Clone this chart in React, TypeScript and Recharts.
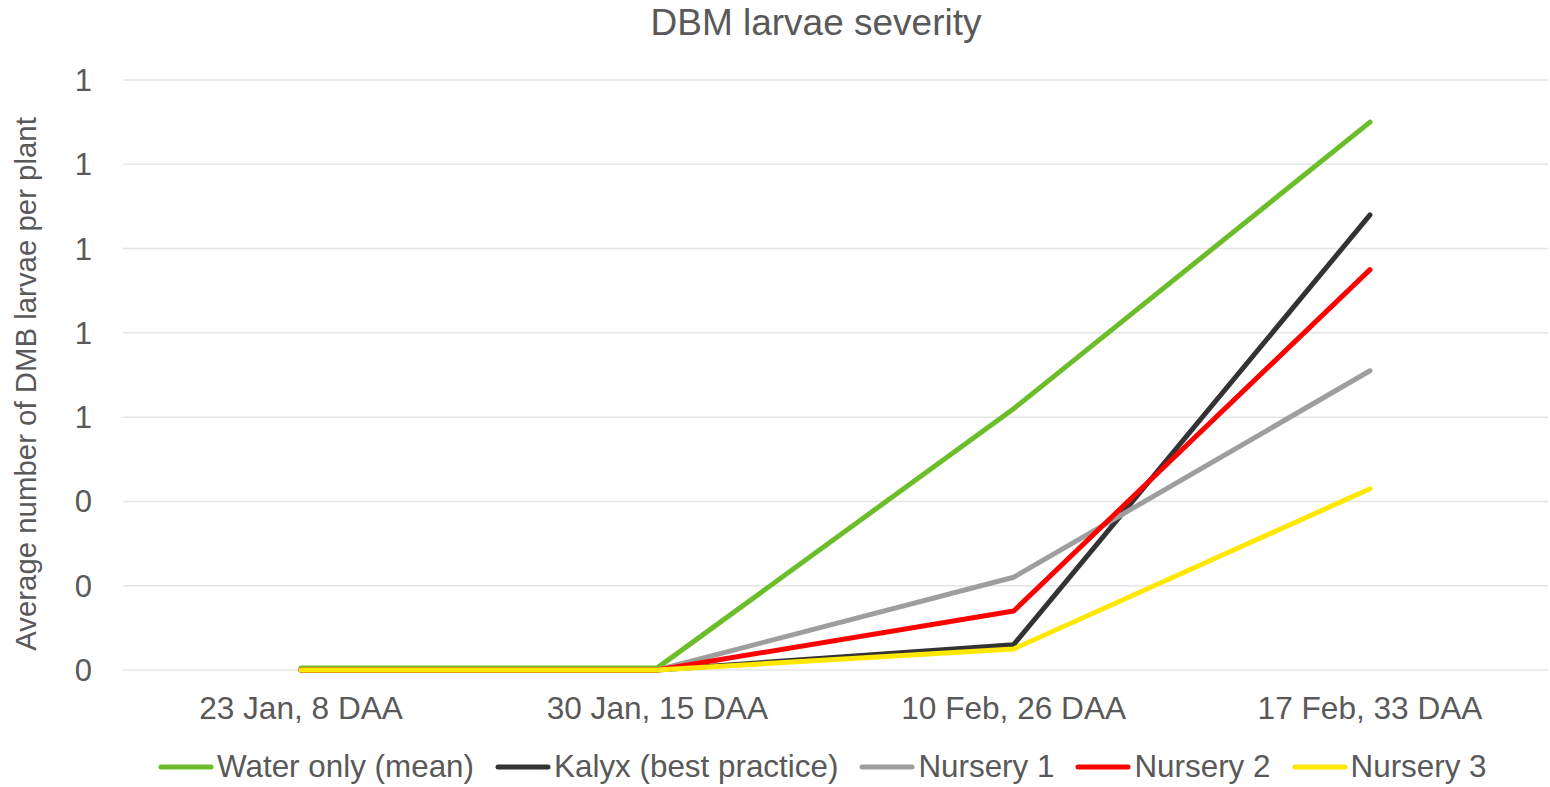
import { LineChart, Line, XAxis, YAxis, CartesianGrid, Legend } from "recharts";

const categories = ["23 Jan, 8 DAA", "30 Jan, 15 DAA", "10 Feb, 26 DAA", "17 Feb, 33 DAA"];
const waterOnly = [0.005, 0.005, 0.62, 1.3];
const kalyx = [0, 0, 0.06, 1.08];
const nursery1 = [0, 0, 0.22, 0.71];
const nursery2 = [0, 0, 0.14, 0.95];
const nursery3 = [0, 0, 0.05, 0.43];
const yTicks = [0, 0.2, 0.4, 0.6, 0.8, 1, 1.2, 1.4];

const series = [
  { key: "water", name: "Water only (mean)", color: "#6cbd2a", values: waterOnly },
  { key: "kalyx", name: "Kalyx (best practice)", color: "#333333", values: kalyx },
  { key: "n1", name: "Nursery 1", color: "#9e9e9e", values: nursery1 },
  { key: "n2", name: "Nursery 2", color: "#ff0000", values: nursery2 },
  { key: "n3", name: "Nursery 3", color: "#ffe800", values: nursery3 },
];

const data = categories.map((category, i) => {
  const row: Record<string, string | number> = { category };
  series.forEach((s) => (row[s.key] = s.values[i]));
  return row;
});

const textColor = "#595959";
const font = "'Liberation Sans', Arial, sans-serif";

function LegendRow() {
  return (
    <div style={{ display: "flex", alignItems: "center", paddingLeft: 158, fontFamily: font, fontSize: 31.4, color: textColor }}>
      {series.map((s) => (
        <div key={s.key} style={{ display: "flex", alignItems: "center", marginRight: 21 }}>
          <svg width={56} height={10} style={{ marginRight: 3 }}>
            <line x1={3} y1={5} x2={53} y2={5} stroke={s.color} strokeWidth={5} strokeLinecap="round" />
          </svg>
          <span style={{ whiteSpace: "nowrap" }}>{s.name}</span>
        </div>
      ))}
    </div>
  );
}

function YLabel(props: any) {
  const vb = props.viewBox || { x: 0, y: 0, width: 0, height: 0 };
  const x = vb.x + 2;
  const y = vb.y + vb.height / 2 + 9;
  return (
    <text
      x={x}
      y={y}
      transform={`rotate(-90, ${x}, ${y})`}
      textAnchor="middle"
      dominantBaseline="central"
      fontSize={29.4}
      fill={textColor}
      fontFamily={font}
    >
      Average number of DMB larvae per plant
    </text>
  );
}

export default function App() {
  return (
    <div style={{ position: "absolute", left: 0, top: 0, width: 1550, height: 787, background: "#fff" }}>
      <div
        style={{
          position: "absolute",
          top: 4,
          left: 0,
          width: 1632,
          textAlign: "center",
          fontFamily: font,
          fontSize: 37,
          lineHeight: "37px",
          color: textColor,
        }}
      >
        DBM larvae severity
      </div>
      <LineChart width={1550} height={787} data={data} margin={{ top: 80, right: 2, left: 23, bottom: 87 }}>
        <CartesianGrid vertical={false} stroke="#e4e4e4" strokeWidth={1.5} />
        <XAxis
          dataKey="category"
          height={30}
          padding={{ left: 178, right: 178 }}
          axisLine={false}
          tickLine={false}
          tickSize={0}
          tickMargin={27}
          tick={{ fontSize: 31.6, fill: textColor, fontFamily: font }}
        />
        <YAxis
          width={100}
          domain={[0, 1.4]}
          ticks={yTicks}
          tickFormatter={(v: number) => String(Math.round(v))}
          axisLine={false}
          tickLine={false}
          tickSize={0}
          tickMargin={31}
          tick={{ fontSize: 31, fill: textColor, fontFamily: font }}
          label={<YLabel />}
        />
        <Legend
          layout="horizontal"
          verticalAlign="middle"
          align="center"
          wrapperStyle={{ top: 749, left: 0, width: 1550 }}
          content={() => <LegendRow />}
        />
        {series.map((s) => (
          <Line
            key={s.key}
            dataKey={s.key}
            name={s.name}
            stroke={s.color}
            strokeWidth={5}
            strokeLinecap="round"
            strokeLinejoin="round"
            dot={false}
            activeDot={false}
            isAnimationActive={false}
          />
        ))}
      </LineChart>
    </div>
  );
}
